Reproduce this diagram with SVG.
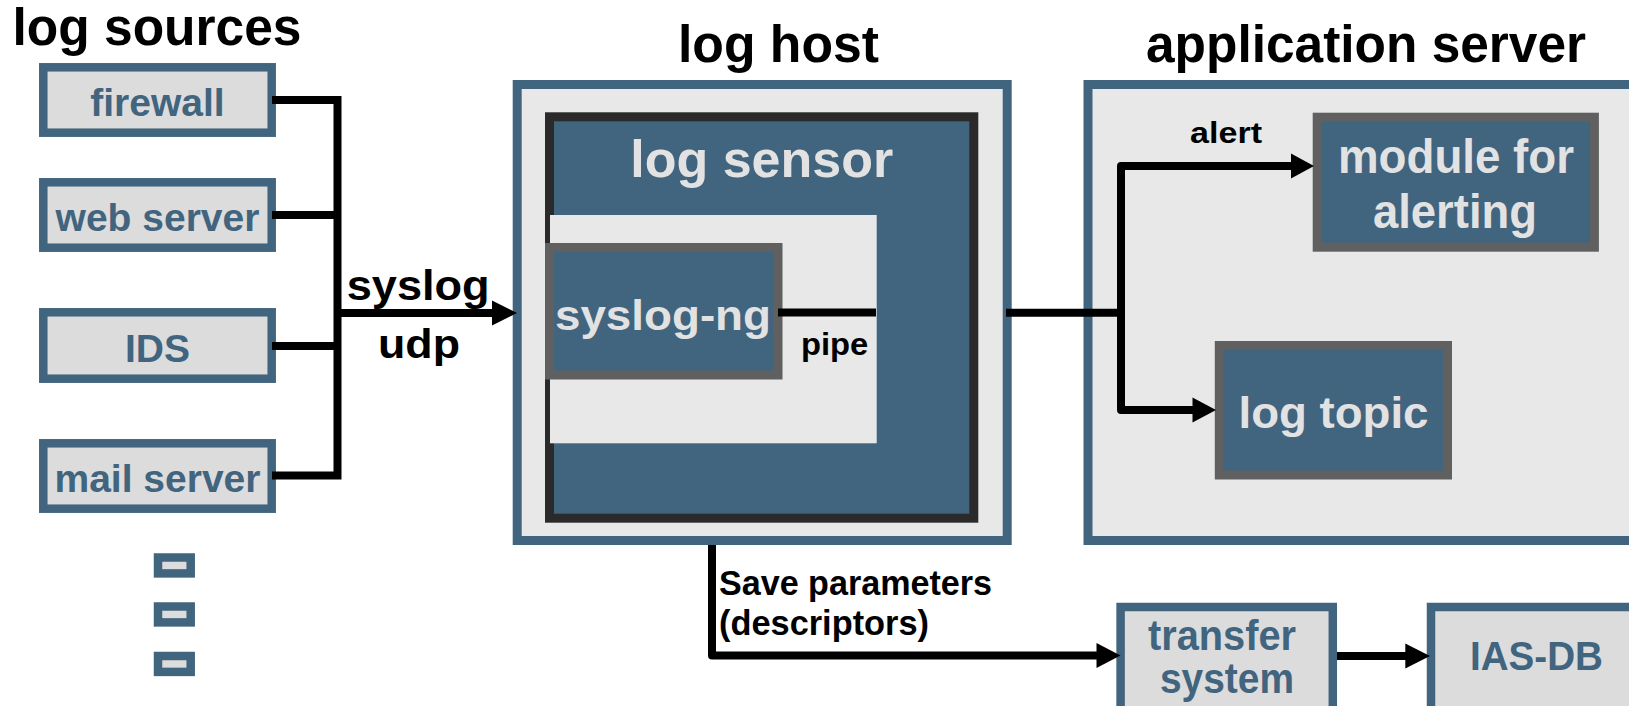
<svg xmlns="http://www.w3.org/2000/svg" width="1629" height="706" viewBox="0 0 1629 706">
<defs>
<style>
text{font-family:"Liberation Sans",Arial,sans-serif;font-weight:bold}
.title{font-size:51px;fill:#000}
.src{fill:#dcdcdc;stroke:#41647f;stroke-width:8.5}
.srct{font-size:39px;fill:#41647f;text-anchor:middle}
.cont{fill:#e8e8e8;stroke:#41647f;stroke-width:9}
.dark{fill:#41647f;stroke:#606060;stroke-width:9}
.lt{fill:#e2e2e2}
.lbl{fill:#000}
.ln{fill:none;stroke:#000;stroke-width:8}
.ah{fill:#000}
</style>
</defs>
<rect width="1629" height="706" fill="#fff"/>

<g id="titles">
<text class="title" x="12.5" y="45" textLength="289" lengthAdjust="spacingAndGlyphs">log sources</text>
<text class="title" x="678" y="62" textLength="201" lengthAdjust="spacingAndGlyphs">log host</text>
<text class="title" x="1146" y="62" textLength="440" lengthAdjust="spacingAndGlyphs">application server</text>
</g>

<g id="firewall"><rect class="src" x="43.3" y="67.3" width="228.4" height="65.4"/><text class="srct" x="157.5" y="116">firewall</text></g>
<g id="web-server"><rect class="src" x="43.3" y="182.3" width="228.4" height="65.4"/><text class="srct" x="157.5" y="231">web server</text></g>
<g id="ids"><rect class="src" x="43.3" y="312.3" width="228.4" height="66.4"/><text class="srct" x="157.5" y="361.5">IDS</text></g>
<g id="mail-server"><rect class="src" x="43.3" y="443.3" width="228.4" height="65.4"/><text class="srct" x="157.5" y="492">mail server</text></g>
<g id="more-sources">
<rect class="src" x="158" y="557.5" width="32.7" height="15.9"/>
<rect class="src" x="158" y="606.5" width="32.7" height="15.9"/>
<rect class="src" x="158" y="656" width="32.7" height="15.9"/>
</g>

<g id="log-host">
<rect class="cont" x="517.2" y="84.5" width="490" height="456"/>
</g>
<g id="log-sensor">
<rect x="549.5" y="116.8" width="424.3" height="401.4" fill="#41647f" stroke="#2a2a2a" stroke-width="9"/>
<text class="lt" x="761.7" y="177.3" font-size="52" text-anchor="middle">log sensor</text>
<rect x="550" y="215" width="326.7" height="228.3" fill="#e8e8e8"/>
</g>
<g id="syslog-ng">
<rect class="dark" x="549.5" y="247.5" width="228.5" height="127.5"/>
<text class="lt" x="555" y="330" font-size="42" textLength="216" lengthAdjust="spacingAndGlyphs">syslog-ng</text>
</g>

<g id="application-server">
<rect class="cont" x="1088" y="84.5" width="560" height="456"/>
</g>
<g id="module-for-alerting">
<rect class="dark" x="1317.2" y="117.2" width="277.2" height="130"/>
<text class="lt" x="1338" y="172.5" font-size="49" textLength="236" lengthAdjust="spacingAndGlyphs">module for</text>
<text class="lt" x="1373" y="227.5" font-size="49" textLength="164" lengthAdjust="spacingAndGlyphs">alerting</text>
</g>
<g id="log-topic">
<rect class="dark" x="1219.3" y="345.5" width="228.2" height="129.5" stroke-width="8.5"/>
<text class="lt" x="1238.5" y="427.7" font-size="45" textLength="190" lengthAdjust="spacingAndGlyphs">log topic</text>
</g>

<g id="transfer-system">
<rect class="src" x="1120.6" y="607" width="212.2" height="104" stroke-width="9"/>
<text x="1148" y="650" font-size="42" fill="#41647f" textLength="148" lengthAdjust="spacingAndGlyphs">transfer</text>
<text x="1160" y="693" font-size="42" fill="#41647f" textLength="134" lengthAdjust="spacingAndGlyphs">system</text>
</g>
<g id="ias-db">
<rect class="src" x="1431" y="607" width="220" height="104" stroke-width="9"/>
<text x="1470" y="670" font-size="40" fill="#41647f" textLength="133" lengthAdjust="spacingAndGlyphs">IAS-DB</text>
</g>

<g id="connectors">
<path class="ln" d="M272,100 H337.5 V475.5 H272 M272,215 H337.5 M272,346 H337.5"/>
<path class="ln" d="M337.5,313 H494"/>
<polygon class="ah" points="492,300.5 517,313 492,325.5"/>
<path class="ln" d="M778,312.5 H876"/>
<path class="ln" stroke-linejoin="round" d="M1006,312.7 H1121 M1293,166 H1121 V410 H1194"/>
<polygon class="ah" points="1291,153.5 1314,166 1291,178.5"/>
<polygon class="ah" points="1192.5,397.5 1216,410 1192.5,422.5"/>
<path class="ln" stroke-linejoin="round" d="M712,545 V655.5 H1098"/>
<polygon class="ah" points="1096.5,643 1120.5,655.5 1096.5,668"/>
<path class="ln" d="M1337,656 H1407"/>
<polygon class="ah" points="1405.3,643.5 1430,656 1405.3,668.5"/>
</g>

<g id="labels">
<text class="lbl" x="346.7" y="300" font-size="42" textLength="143" lengthAdjust="spacingAndGlyphs">syslog</text>
<text class="lbl" x="378" y="358" font-size="40" textLength="82" lengthAdjust="spacingAndGlyphs">udp</text>
<text class="lbl" x="801" y="355" font-size="32" textLength="67.3" lengthAdjust="spacingAndGlyphs">pipe</text>
<text class="lbl" x="1190" y="143.3" font-size="29" textLength="72" lengthAdjust="spacingAndGlyphs">alert</text>
<text class="lbl" x="719" y="595" font-size="35" textLength="273" lengthAdjust="spacingAndGlyphs">Save parameters</text>
<text class="lbl" x="719" y="635" font-size="35" textLength="210" lengthAdjust="spacingAndGlyphs">(descriptors)</text>
</g>
</svg>
